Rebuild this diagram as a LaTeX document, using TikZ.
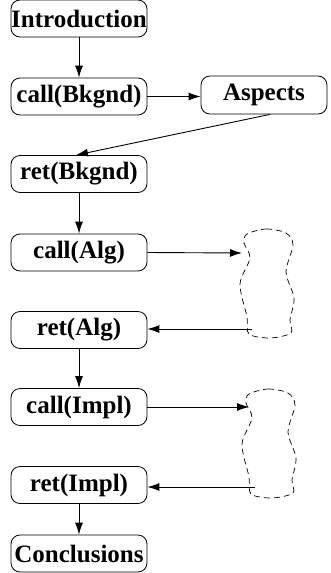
\documentclass[tikz,border=0pt]{standalone}
\usepackage{fontspec}
\setmainfont{Liberation Serif}
\usetikzlibrary{arrows.meta}
\tikzset{
  stage/.style={draw, line width=0.8pt, rounded corners=9pt, inner sep=0pt,
    minimum width=136pt, minimum height=37pt,
    font=\fontsize{25}{29}\selectfont\bfseries},
  flow/.style={line width=0.9pt, -{Latex[length=12pt,width=8pt]}},
  cloud/.style={line width=0.7pt, dash pattern=on 6pt off 4pt}
}
\begin{document}
\begin{tikzpicture}[x=1pt,y=-1pt]
\useasboundingbox (0,0) rectangle (330,573);

% main chain of sections
\node[stage] (intro) at (79,18.5) {Introduction};
\node[stage] (cbk)   at (79,96.5) {call(Bkgnd)};
\node[stage] (asp)   at (264,95) [minimum width=126pt, minimum height=38pt] {Aspects};
\node[stage] (rbk)   at (79,174) {ret(Bkgnd)};
\node[stage] (calg)  at (79,252.5) {call(Alg)};
\node[stage] (ralg)  at (79,330) {ret(Alg)};
\node[stage] (cimp)  at (79,407) {call(Impl)};
\node[stage] (rimp)  at (79,485) {ret(Impl)};
\node[stage] (concl) at (79,553.5) {Conclusions};

% dashed placeholder outlines
\foreach \name/\dx/\dy in {alg/0/0, imp/2/160}{
  \begin{scope}[shift={(\dx,\dy)}]
    \draw[cloud] plot[smooth cycle] coordinates {
      (247,234) (266,229) (286,233) (293,245) (286,272) (294,298)
      (290,320) (291,333) (270,338) (249,334) (247,317) (240,284)
      (250,258) (244,243)};
  \end{scope}
}
\coordinate (algin)  at (242,253);
\coordinate (algout) at (252,329);
\coordinate (impin)  at (249,407);
\coordinate (impout) at (255,487);

% connectors
\draw[flow] (intro) -- (cbk);
\draw[flow] (cbk) -- (asp.west |- cbk.east);
\draw[flow] ([xshift=6pt]asp.south) -- ([xshift=-3pt]rbk.north);
\draw[flow] (rbk) -- (calg);
\draw[flow] (calg.east) -- (algin);
\draw[flow] (algout) -- (ralg.east |- algout);
\draw[flow] (ralg) -- (cimp);
\draw[flow] (cimp.east) -- (impin);
\draw[flow] (impout) -- (rimp.east |- impout);
\draw[flow] (rimp) -- (concl);
\end{tikzpicture}
\end{document}
